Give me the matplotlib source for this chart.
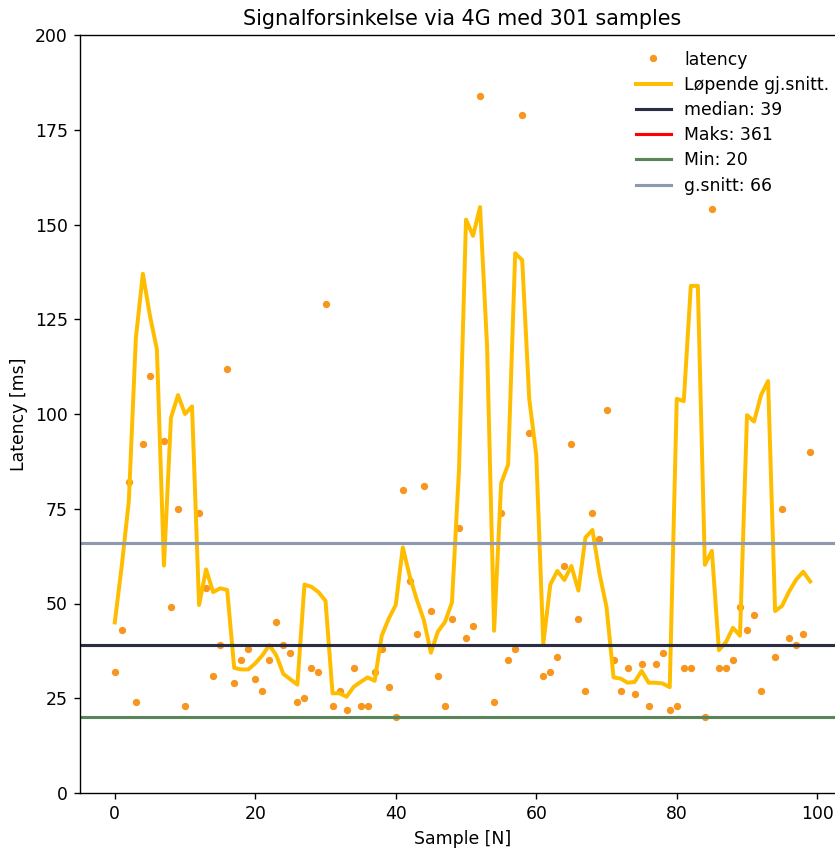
import matplotlib
matplotlib.use('Agg')
import matplotlib.pyplot as plt

NA = float('nan')  # samples with no visible dot

# latency per sample
samples = list(range(100))
latency = [32, 43, 82, 24, 92, 110, NA, 93, 49, 75,
           23, NA, 74, 54, 31, 39, 112, 29, 35, 38,
           30, 27, 35, 45, 39, 37, 24, 25, 33, 32,
           129, 23, 27, 22, 33, 23, 23, 32, 38, 28,
           20, 80, 56, 42, 81, 48, 31, 23, 46, 70,
           41, 44, 184, NA, 24, 74, 35, 38, 179, 95,
           NA, 31, 32, 36, 60, 92, 46, 27, 74, 67,
           101, 35, 27, 33, 26, 34, 23, 34, 37, 22,
           23, 33, 33, NA, 20, 154, 33, 33, 35, 49,
           43, 47, 27, NA, 36, 75, 41, 39, 42, 90]

# running average curve
running_avg = [45, 60, 77, 120, 137, 126, 117, 60, 99, 105,
               100, 102, 49.6, 59, 53, 54, 53.6, 33, 32.6, 32.6,
               34.2, 36.3, 39, 36.3, 31.4, 30, 28.6, 55, 54.4, 53,
               50.7, 26.3, 26.3, 25.4, 28, 29.3, 30.5, 29.6, 41.5, 46,
               49.6, 64.8, 57.1, 51, 45.6, 37, 42.6, 45.1, 50.3, 85.2,
               151.3, 147, 154.6, 117.8, 42.8, 81.7, 86.7, 142.4, 140.6, 104,
               89.2, 39.4, 55, 58.6, 56.2, 59.9, 53.4, 67.4, 69.4, 57.9,
               49.1, 30.5, 30.2, 29.1, 29.3, 32.2, 29.1, 29.1, 28.9, 27.9,
               104, 103.4, 133.8, 133.8, 60.2, 63.9, 37.7, 39.8, 43.6, 41.5,
               99.7, 98, 105, 108.7, 48, 49.4, 53.2, 56.3, 58.4, 55.8]

median_val = 39
max_val = 361
min_val = 20
mean_val = 66

DPI = 124
fig = plt.figure(figsize=(835 / DPI, 850 / DPI), dpi=DPI)
ax = fig.add_axes([80 / 835, 57 / 850, 765 / 835, 758 / 850])

ax.plot(samples, latency, '.', color='#f8961e', markersize=6.5, label='latency')
ax.plot(samples, running_avg, color='#ffbd00', linewidth=2.3, label='Løpende gj.snitt.')
ax.axhline(median_val, color='#2b2d42', linewidth=1.8, label='median: %d' % median_val)
ax.axhline(max_val, color='red', linewidth=1.8, label='Maks: %d' % max_val)
ax.axhline(min_val, color='#5b845b', linewidth=1.8, label='Min: %d' % min_val)
ax.axhline(mean_val, color='#8d99ae', linewidth=1.8, label='g.snitt: %d' % mean_val)

ax.set_ylim(0, 200)
ax.set_xlim(-4.95, 103.95)
ax.set_xlabel('Sample [N]')
ax.set_ylabel('Latency [ms]')
ax.set_title('Signalforsinkelse via 4G med 301 samples')
ax.legend(loc='upper right', frameon=False, labelspacing=0.42)

fig.savefig('out.png', dpi=DPI)
